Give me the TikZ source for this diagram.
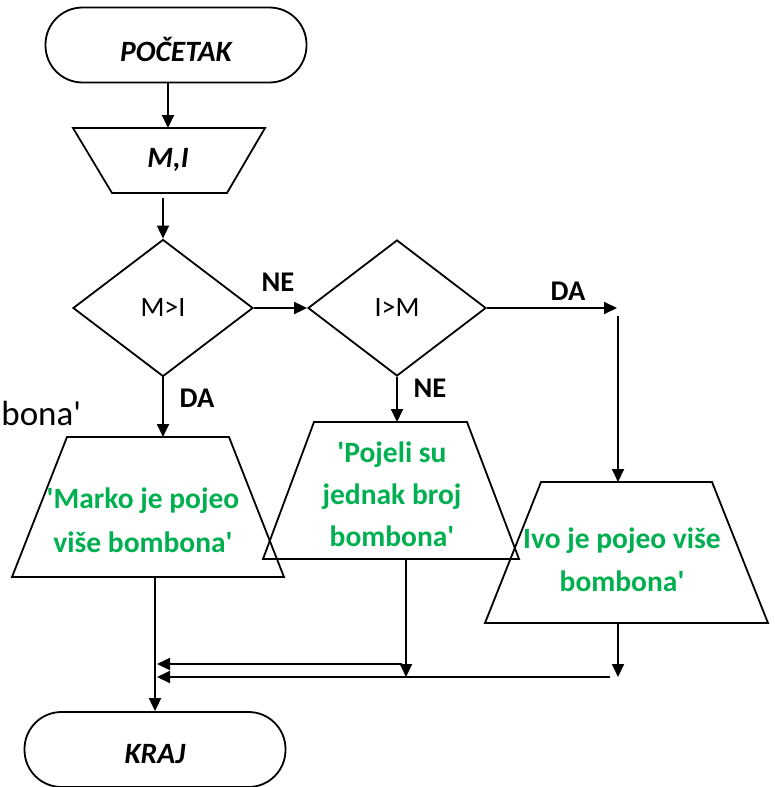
\documentclass[tikz,border=0pt]{standalone}
\usepackage{fontspec}
\setmainfont{Carlito}[Ligatures=TeXOff]
\usetikzlibrary{arrows.meta,shapes.geometric}
\definecolor{tgreen}{RGB}{0,176,80}
\begin{document}
\begin{tikzpicture}[x=1pt,y=-1pt,line width=1.8pt,
  term/.style={draw,rounded corners=37pt,minimum width=261pt,minimum height=75pt,inner sep=0pt,
    text depth=0pt,
    font=\fontsize{29.5}{31}\selectfont\bfseries\itshape},
  dec/.style={draw,diamond,inner sep=0pt,font=\fontsize{28}{30}\selectfont},
  lbl/.style={inner sep=0pt,font=\fontsize{28.5}{30}\selectfont\bfseries},
  gtxt/.style={text=tgreen,align=center,inner sep=0pt,font=\fontsize{29.5}{44}\selectfont\bfseries},
  itxt/.style={inner sep=0pt,font=\fontsize{29.5}{31}\selectfont\bfseries\itshape},
  arr/.style={-{Triangle[length=13pt,width=12pt]}}]
\useasboundingbox (0,0) rectangle (775,787);

% terminals
\node[term,text height=32pt] (start) at (176,45) {POČETAK};
\node[term,text height=28pt] (kraj) at (155,749.5) {KRAJ};

% input M,I
\draw (73,128) -- (265,128) -- (227,193) -- (112,193) -- cycle;
\node[itxt] (mi) at (168,160) {M,I};
\coordinate (mitop) at (168,128);
\coordinate (mibot) at (163,198);

% decisions
\node[dec,minimum width=180pt,minimum height=137pt] (mgi) at (163,308) {M>I};
\node[dec,minimum width=178pt,minimum height=136pt] (igm) at (397,308) {I>M};

% output Marko
\draw (67,437) -- (229,437) -- (284,577) -- (12,577) -- cycle;
\node[gtxt] (marko) at (143,520) {'Marko je pojeo\\više bombona'};
\coordinate (markotop) at (163,437);
\coordinate (markobot) at (155,577);

% output jednak
\draw (314,422) -- (467,422) -- (519,559) -- (263,559) -- cycle;
\node[gtxt,font=\fontsize{29.5}{42}\selectfont\bfseries] (jednak) at (392,494) {'Pojeli su\\jednak broj\\bombona'};
\coordinate (midtop) at (397,422);
\coordinate (midbot) at (406,559);

% output Ivo
\draw (541,482) -- (712,482) -- (768,623) -- (485,623) -- cycle;
\node[gtxt,font=\fontsize{29.5}{43}\selectfont\bfseries] (ivo) at (622,560) {Ivo je pojeo više\\bombona'};
\coordinate (ivotop) at (618,482);
\coordinate (ivobot) at (618,623);

% stray text
\node[anchor=west,inner sep=0pt,font=\fontsize{35}{40}\selectfont] (bona) at (0.5,413) {bona'};

% labels
\node[lbl] (ne1) at (278,282) {NE};
\node[lbl] (da1) at (197,398) {DA};
\node[lbl] (ne2) at (430,388) {NE};
\node[lbl] (da2) at (568,291) {DA};

% helper coordinates
\coordinate (daend) at (617,308);
\coordinate (ivoin) at (618,316);
\coordinate (j1) at (406,677);
\coordinate (h1s) at (402,664);
\coordinate (h1e) at (157,664);
\coordinate (j2) at (618,677);
\coordinate (h2s) at (610,677);
\coordinate (h2e) at (157,677);

% connectors
\draw[arr] (start.south -| mitop) -- (mitop);
\draw[arr] (mibot) -- (mgi.north);
\draw[arr] (mgi.east) -- (igm.west);
\draw[arr] (mgi.south) -- (markotop);
\draw[arr] (igm.south) -- (midtop);
\draw[arr] (igm.east) -- (daend);
\draw[arr] (ivoin) -- (ivotop);
\draw[arr] (markobot) -- (kraj.north);
\draw[arr] (midbot) -- (j1);
\draw[arr] (h1s) -- (h1e);
\draw[arr] (ivobot) -- (j2);
\draw[arr] (h2s) -- (h2e);
\end{tikzpicture}
\end{document}
